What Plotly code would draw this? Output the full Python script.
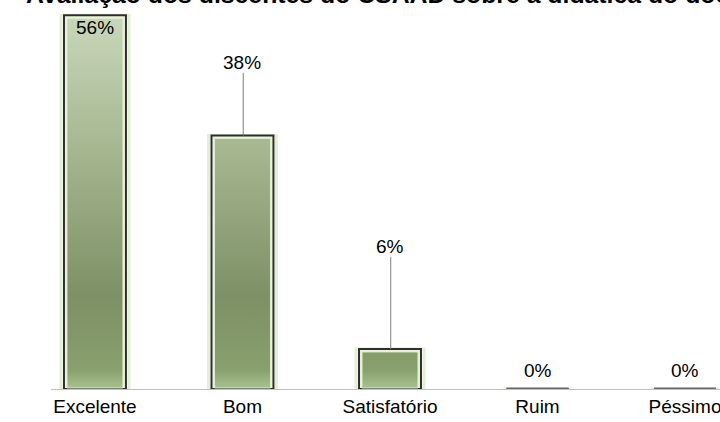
import plotly.graph_objects as go

# Survey results: share of students per rating
categories = ["Excelente", "Bom", "Satisfatório", "Ruim", "Péssimo"]
percentages = [56, 38, 6, 0, 0]

# Where each value label sits on the y axis (percent units)
label_y = [54.2, 49.0, 21.4, 2.7, 2.7]

title_text = "Avaliação dos discentes do CSAAD sobre a didática do docente"

FONT = "Liberation Sans, Arial, sans-serif"
BAR_W = 0.42
PX_PER_X = 147.5      # pixels per category step
PX_PER_Y = 6.67       # pixels per percent
PLOT_H = 389          # plot area height in pixels

idx = list(range(len(categories)))

fig = go.Figure()

# soft outer glow
fig.add_trace(go.Bar(
    x=idx, y=percentages, width=BAR_W + 6 / PX_PER_X,
    marker=dict(color="rgba(0,0,0,0)", line=dict(color="rgba(205,228,180,0.55)", width=3)),
    hoverinfo="skip", showlegend=False,
))
# bar body with dark outline
fig.add_trace(go.Bar(
    x=idx, y=percentages, width=BAR_W,
    marker=dict(color="#eaf4dc", line=dict(color="#2e2e2e", width=2)),
    showlegend=False,
))
# zero-height bars show as a flat grey bar on the baseline
fig.add_trace(go.Bar(
    x=[i for i, v in zip(idx, percentages) if v == 0],
    y=[v for v in percentages if v == 0],
    width=BAR_W,
    marker=dict(color="#6a6a6a", line=dict(color="#6a6a6a", width=3)),
    hoverinfo="skip", showlegend=False,
))

# gradient fill inside each non-zero bar
ix = 3 / PX_PER_X
iy = 3 / PX_PER_Y
gradient = [
    [0.0, "#a9c491"],
    [0.05, "#88a06d"],
    [0.25, "#7e9066"],
    [0.6, "#a2b38b"],
    [1.0, "#c9d7bb"],
]
for i, v in zip(idx, percentages):
    if v <= 0:
        continue
    x0, x1 = i - BAR_W / 2 + ix, i + BAR_W / 2 - ix
    y0, y1 = 0.15, v - iy
    fig.add_trace(go.Scatter(
        x=[x0, x1, x1, x0, x0], y=[y0, y0, y1, y1, y0],
        mode="lines", fill="toself",
        line=dict(color="rgba(225,240,205,0.9)", width=1),
        fillgradient=dict(type="vertical", colorscale=gradient, start=0, stop=max(percentages)),
        hoverinfo="skip", showlegend=False,
    ))

# value labels, with leader lines when a label is lifted off its bar
for i, v, ly in zip(idx, percentages, label_y):
    fig.add_annotation(
        x=i, y=ly, text=f"{v}%", showarrow=False,
        font=dict(family=FONT, size=19, color="#000000"),
        xanchor="center", yanchor="middle",
    )
    gap = ly - v
    if v > 0 and gap > 5:
        fig.add_shape(
            type="line", x0=i + 0.005, x1=i + 0.005,
            y0=v, y1=ly - 1.6,
            line=dict(color="#7f7f7f", width=1),
        )

# title (runs past the top and right edges)
fig.add_annotation(
    xref="paper", yref="paper", x=-0.04, y=1.0 + 6 / PLOT_H,
    text=f"<b>{title_text}</b>", showarrow=False,
    xanchor="left", yanchor="middle",
    font=dict(family=FONT, size=24.8, color="#000000"),
)

fig.update_layout(
    width=720, height=422,
    margin=dict(l=51, r=0, t=0, b=33),
    paper_bgcolor="white", plot_bgcolor="white",
    barmode="overlay",
    showlegend=False,
    xaxis=dict(
        range=[-0.298, 4.237], tickvals=idx, ticktext=categories,
        showgrid=False, zeroline=False, showline=True,
        linecolor="#c0c0c0", linewidth=1, ticks="",
        ticklabeloverflow="allow",
        tickfont=dict(family=FONT, size=19, color="#000000"),
    ),
    yaxis=dict(range=[0, 58.3], visible=False, showgrid=False, zeroline=False),
)

fig.write_html("out.html")
